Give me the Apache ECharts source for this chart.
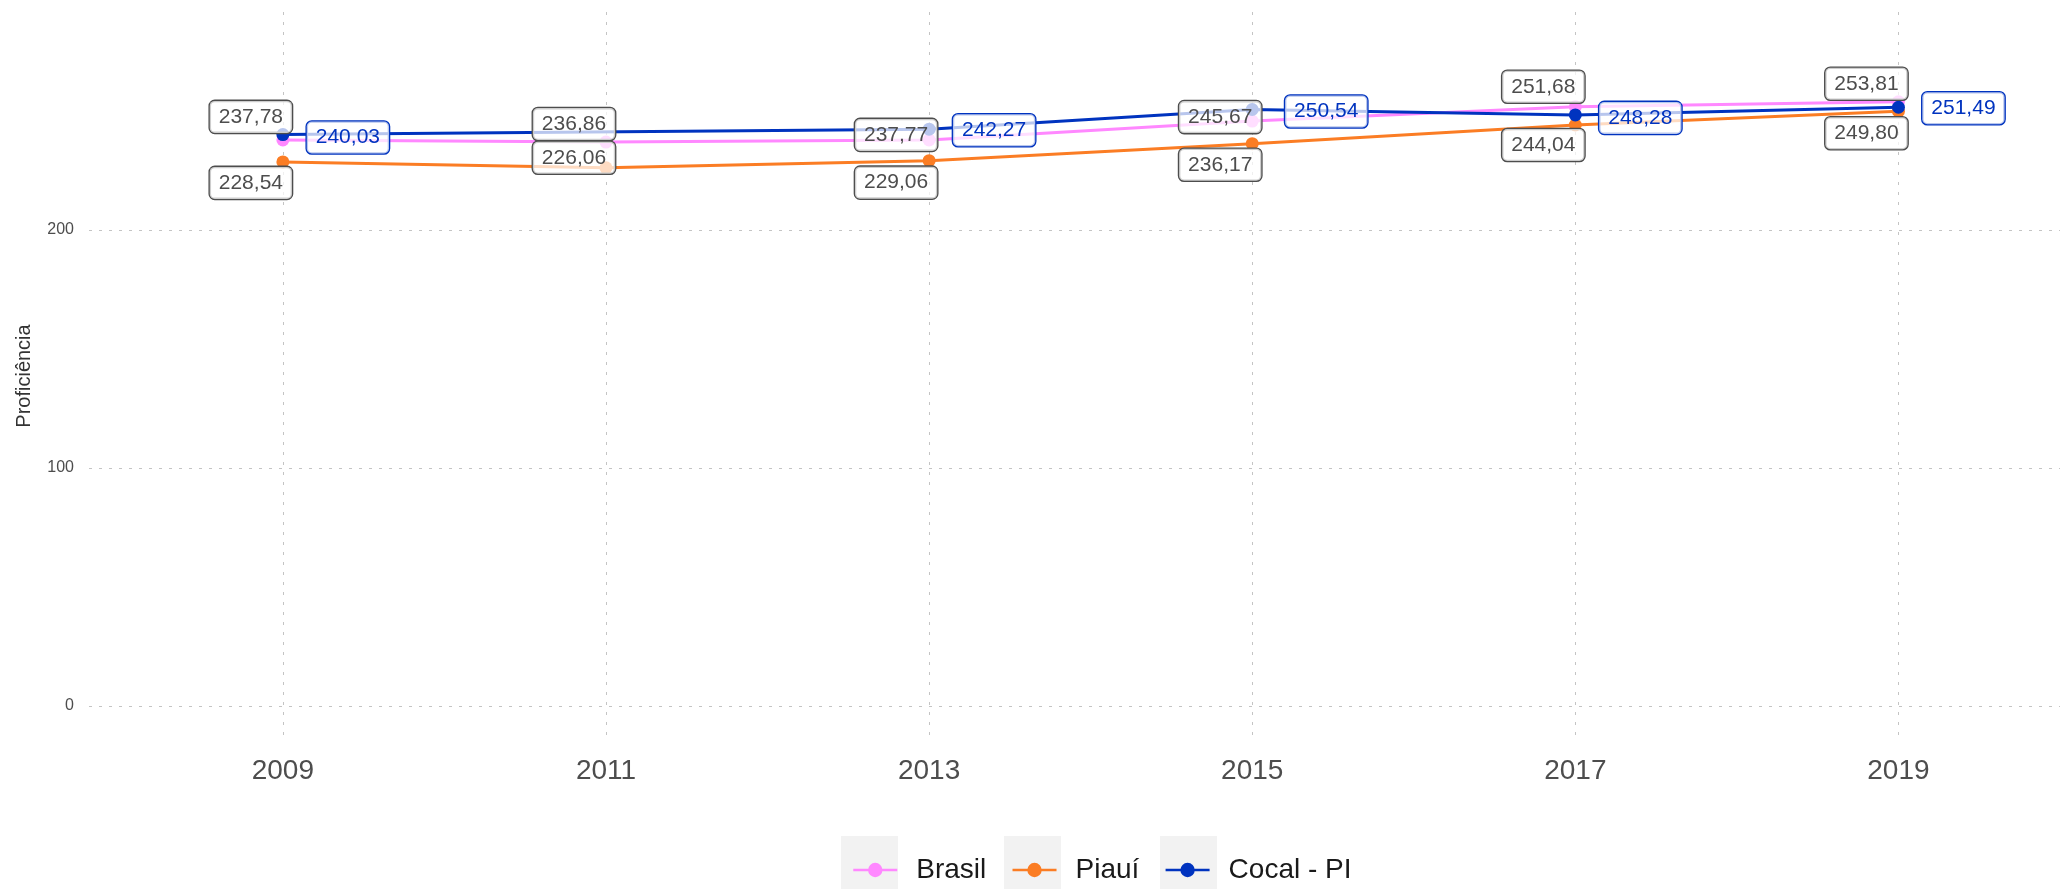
<!DOCTYPE html>
<html>
<head>
<meta charset="utf-8">
<script src="https://cdn.jsdelivr.net/npm/echarts@6/dist/echarts.min.js"></script>
<style>
  html, body { margin: 0; padding: 0; background: #fff; }
  #container { width: 2072px; height: 889px; }
</style>
</head>
<body>
<div id="container"></div>
<script>
// dados
var years = [2009, 2011, 2013, 2015, 2017, 2019];
var brasil = [237.78, 236.86, 237.77, 245.67, 251.68, 253.81];
var piaui = [228.54, 226.06, 229.06, 236.17, 244.04, 249.80];
var cocal = [240.03, null, 242.27, 250.54, 248.28, 251.49];
var yTicks = [0, 100, 200];

// deslocamento dos rótulos (px), como o ggrepel deixou
var brasilShift = [[-32, -23], [-32, -18], [-33, -5], [-32, -4], [-32, -20], [-32, -18]];
var piauiShift = [[-32, 21], [-32, -10], [-33, 22], [-32, 21], [-32, 20], [-32, 22]];
var cocalShift = [[65, 3], [0, 0], [65, 1], [74, 2], [65, 3], [65, 1]];

var fonte = 'Liberation Sans, Arial, sans-serif';

function fmt(v) {
  return v.toFixed(2).replace('.', ',');
}

function serie(name, vals, shifts, color, txtColor) {
  var pts = [];
  for (var i = 0; i < years.length; i++) {
    if (vals[i] == null) continue;
    pts.push({
      value: [years[i], vals[i]],
      label: { offset: shifts[i] }
    });
  }
  return {
    name: name,
    type: 'line',
    data: pts,
    symbol: 'circle',
    symbolSize: 13,
    color: color,
    lineStyle: { width: 3, color: color },
    itemStyle: { color: color },
    emphasis: { disabled: true },
    label: {
      show: true,
      position: 'inside',
      formatter: function (p) { return fmt(p.value[1]); },
      fontFamily: fonte,
      fontSize: 21,
      color: txtColor,
      backgroundColor: 'rgba(255,255,255,0.72)',
      borderColor: txtColor,
      borderWidth: 1.3,
      borderRadius: 5,
      padding: [6, 9, 5, 9]
    }
  };
}

var myChart = echarts.init(document.getElementById('container'));
var option = {
  animation: false,
  backgroundColor: '#ffffff',
  grid: {
    left: 89, right: 12, top: 12, bottom: 149,
    containLabel: false,
    outerBoundsMode: 'none'
  },
  xAxis: {
    type: 'value',
    min: 2007.8,
    max: 2020,
    axisLine: { show: false },
    axisTick: { show: false, customValues: years },
    axisLabel: {
      customValues: years,
      formatter: function (v) { return String(v); },
      margin: 17,
      fontFamily: fonte,
      fontSize: 28,
      color: '#4d4d4d'
    },
    splitLine: {
      show: true,
      lineStyle: { color: '#c4c4c4', width: 1, type: [3, 7] }
    }
  },
  yAxis: {
    type: 'value',
    min: -14.3,
    max: 291.5,
    name: 'Proficiência',
    nameLocation: 'middle',
    nameGap: 55,
    nameTextStyle: { fontFamily: fonte, fontSize: 20, color: '#333333' },
    axisLine: { show: false },
    axisTick: { show: false, customValues: yTicks },
    axisLabel: {
      customValues: yTicks,
      margin: 15,
      fontFamily: fonte,
      fontSize: 16,
      color: '#4d4d4d'
    },
    splitLine: {
      show: true,
      lineStyle: { color: '#c4c4c4', width: 1, type: [3, 7] }
    }
  },
  legend: {
    left: 847,
    top: 849,
    orient: 'horizontal',
    itemWidth: 44,
    itemHeight: 18,
    itemGap: 25,
    lineStyle: { width: 2.5 },
    textStyle: {
      fontFamily: fonte,
      fontSize: 28,
      color: '#1a1a1a',
      lineHeight: 32,
      padding: [0, 0, 0, 14]
    },
    data: ['Brasil', 'Piauí', 'Cocal - PI']
  },
  graphic: [
    { type: 'rect', z: 0, shape: { x: 841, y: 836, width: 57, height: 60 }, style: { fill: '#f2f2f2' } },
    { type: 'rect', z: 0, shape: { x: 1004, y: 836, width: 57, height: 60 }, style: { fill: '#f2f2f2' } },
    { type: 'rect', z: 0, shape: { x: 1160, y: 836, width: 57, height: 60 }, style: { fill: '#f2f2f2' } }
  ],
  series: [
    serie('Brasil', brasil, brasilShift, '#ff88ff', '#4d4d4d'),
    serie('Piauí', piaui, piauiShift, '#fb7d24', '#4d4d4d'),
    serie('Cocal - PI', cocal, cocalShift, '#0033bf', '#0033bf')
  ]
};
myChart.setOption(option);
</script>
</body>
</html>
